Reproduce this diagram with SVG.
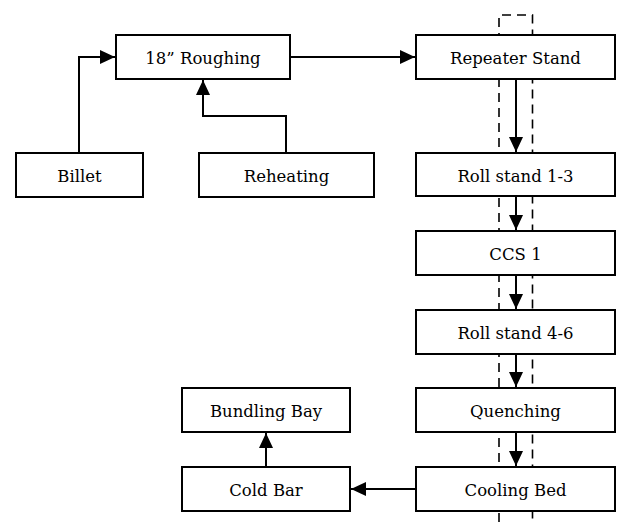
<svg xmlns="http://www.w3.org/2000/svg" width="619" height="522" viewBox="0 0 619 522">
<style>
.box{fill:#fff;stroke:#000;stroke-width:2}
.lbl{font-family:'DejaVu Serif','Liberation Serif',serif;font-size:16.5px;text-anchor:middle;fill:#000}
.con{fill:none;stroke:#000;stroke-width:2}
.dash{fill:none;stroke:#000;stroke-width:1.6;stroke-dasharray:9 6}
</style>
<defs>
<marker id="ah" markerWidth="15" markerHeight="14" refX="15" refY="7" orient="auto" markerUnits="userSpaceOnUse">
<path d="M0,0 L15,7 L0,14 Z" fill="#000"/>
</marker>
</defs>
<g id="dashed-guide">
<path class="dash" d="M499,522 V15 H532.5 V522"/>
</g>
<g id="connectors">
<path class="con" d="M79,153 V57 H115" marker-end="url(#ah)"/>
<path class="con" d="M286,153 V116 H203 V80" marker-end="url(#ah)"/>
<path class="con" d="M290,57 H415" marker-end="url(#ah)"/>
<path class="con" d="M516,79 V152" marker-end="url(#ah)"/>
<path class="con" d="M516,197 V230" marker-end="url(#ah)"/>
<path class="con" d="M516,275 V309" marker-end="url(#ah)"/>
<path class="con" d="M516,354 V387" marker-end="url(#ah)"/>
<path class="con" d="M516,432 V466" marker-end="url(#ah)"/>
<path class="con" d="M416,489 H351" marker-end="url(#ah)"/>
<path class="con" d="M266,467 V433" marker-end="url(#ah)"/>
</g>
<g id="roughing"><rect class="box" x="116" y="35" width="174" height="44"/><text class="lbl" x="203" y="64">18” Roughing</text></g>
<g id="billet"><rect class="box" x="16" y="153" width="127" height="44"/><text class="lbl" x="79.5" y="182">Billet</text></g>
<g id="reheating"><rect class="box" x="199" y="153" width="175" height="44"/><text class="lbl" x="286.5" y="182">Reheating</text></g>
<g id="repeater"><rect class="box" x="416" y="35" width="199" height="44"/><text class="lbl" x="515.5" y="64">Repeater Stand</text></g>
<g id="roll13"><rect class="box" x="416" y="153" width="199" height="43"/><text class="lbl" x="515.5" y="181.5">Roll stand 1-3</text></g>
<g id="ccs1"><rect class="box" x="416" y="231" width="199" height="44"/><text class="lbl" x="515.5" y="260">CCS 1</text></g>
<g id="roll46"><rect class="box" x="416" y="310" width="199" height="44"/><text class="lbl" x="515.5" y="339">Roll stand 4-6</text></g>
<g id="quenching"><rect class="box" x="416" y="388" width="199" height="44"/><text class="lbl" x="515.5" y="417">Quenching</text></g>
<g id="cooling"><rect class="box" x="416" y="467" width="199" height="44"/><text class="lbl" x="515.5" y="496">Cooling Bed</text></g>
<g id="bundling"><rect class="box" x="182" y="388" width="168" height="44"/><text class="lbl" x="266" y="417">Bundling Bay</text></g>
<g id="coldbar"><rect class="box" x="182" y="467" width="168" height="44"/><text class="lbl" x="266" y="496">Cold Bar</text></g>
</svg>
